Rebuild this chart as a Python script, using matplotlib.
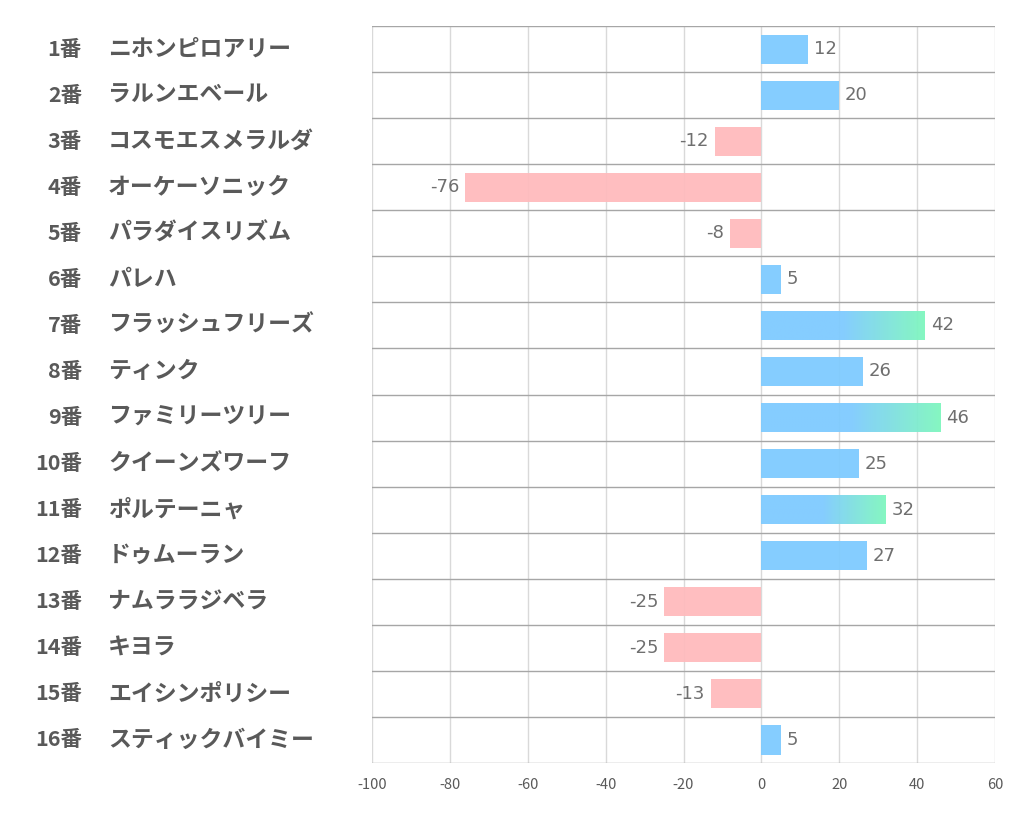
import numpy as np
import matplotlib
matplotlib.use('Agg')
import matplotlib.pyplot as plt
import matplotlib.transforms as mtransforms
from matplotlib.patches import Rectangle
from matplotlib.colors import to_rgba

plt.rcParams['font.family'] = ['Noto Sans CJK JP', 'DejaVu Sans']

numbers = ['1番', '2番', '3番', '4番', '5番', '6番', '7番', '8番',
           '9番', '10番', '11番', '12番', '13番', '14番', '15番', '16番']
names = ['ニホンピロアリー', 'ラルンエベール', 'コスモエスメラルダ', 'オーケーソニック',
         'パラダイスリズム', 'パレハ', 'フラッシュフリーズ', 'ティンク',
         'ファミリーツリー', 'クイーンズワーフ', 'ポルテーニャ', 'ドゥムーラン',
         'ナムララジベラ', 'キヨラ', 'エイシンポリシー', 'スティックバイミー']
values = [12, 20, -12, -76, -8, 5, 42, 26, 46, 25, 32, 27, -25, -25, -13, 5]
xticks = [-100, -80, -60, -40, -20, 0, 20, 40, 60]

blue = '#7fcbff'
pink = '#ffbbbd'
green = '#7ff7be'

fig = plt.figure(figsize=(10.22, 8.34), dpi=100)
ax = fig.add_axes([0.364, 0.0851, 0.6096, 0.8837])

n = len(values)
ypos = np.arange(n)
h = 0.63

# grid
for t in xticks:
    ax.axvline(t, color='#d9d9d9', lw=1, zorder=0)
for b in np.arange(-0.5, n, 1.0):
    ax.axhline(b, color='#a6a6a6', lw=1, zorder=0)

for y, v in zip(ypos, values):
    if v < 0:
        ax.barh(y, v, height=h, color=pink, alpha=0.95, zorder=2)
        ax.text(v - 1.5, y, str(v), ha='right', va='center',
                fontsize=13, color='#6f6f6f', family=['DejaVu Sans'])
    else:
        if v >= 30:
            # blue for first half, then fade to green
            rect = Rectangle((0, y - h / 2), v, h, facecolor='none',
                             edgecolor='none')
            ax.add_patch(rect)
            xs = np.linspace(0, 1, 300)
            c1 = np.array(to_rgba(blue))
            c2 = np.array(to_rgba(green))
            f = np.clip((xs - 0.5) / 0.5, 0, 1)[:, None]
            row = c1 * (1 - f) + c2 * f
            img = row[None, :, :]
            im = ax.imshow(img, extent=[0, v, y + h / 2, y - h / 2],
                           aspect='auto', alpha=0.95, zorder=2,
                           interpolation='bilinear')
            im.set_clip_path(rect)
        else:
            ax.barh(y, v, height=h, color=blue, alpha=0.95, zorder=2)
        ax.text(v + 1.5, y, str(v), ha='left', va='center',
                fontsize=13, color='#6f6f6f', family=['DejaVu Sans'])

ax.set_xlim(-100, 60)
ax.set_ylim(n - 0.5, -0.5)
ax.set_xticks(xticks)
ax.set_xticklabels([str(t) for t in xticks], fontsize=10.5, color='#595959')
ax.set_yticks([])
ax.tick_params(axis='x', length=0, pad=11)
for s in ax.spines.values():
    s.set_visible(False)

trans = mtransforms.blended_transform_factory(fig.transFigure, ax.transData)
for y, num, nm in zip(ypos, numbers, names):
    ax.text(0.0802, y, num, transform=trans, ha='right', va='center',
            fontsize=15.5, fontweight='bold', color='#595959')
    ax.text(0.1057, y, nm, transform=trans, ha='left', va='center',
            fontsize=16.5, fontweight='bold', color='#595959')

fig.savefig('out.png', dpi=100)
